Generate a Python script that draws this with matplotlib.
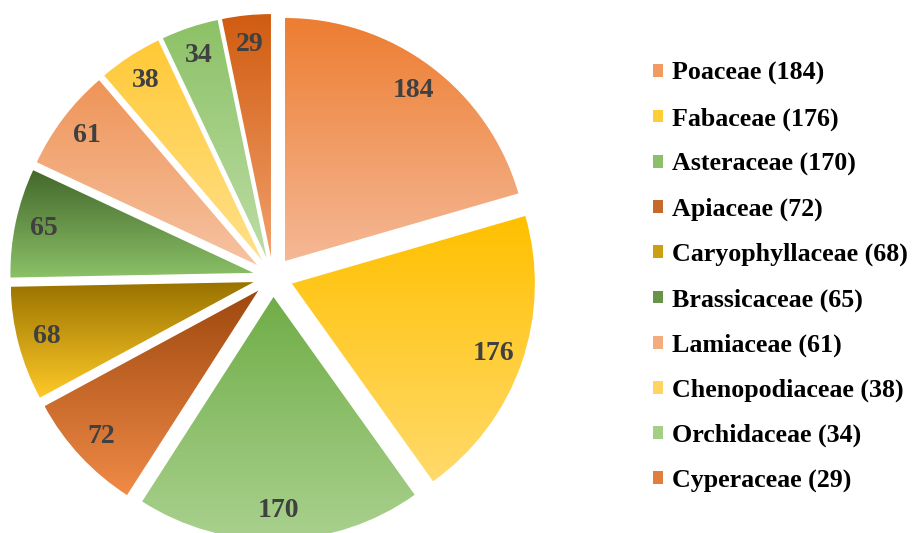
import numpy as np
import matplotlib.pyplot as plt
from matplotlib.colors import to_rgb
from matplotlib.patches import Patch


# Data
families = ['Poaceae', 'Fabaceae', 'Asteraceae', 'Apiaceae', 'Caryophyllaceae',
            'Brassicaceae', 'Lamiaceae', 'Chenopodiaceae', 'Orchidaceae', 'Cyperaceae']
counts = [184, 176, 170, 72, 68, 65, 61, 38, 34, 29]

# gradient colours per slice (top -> bottom)
top_colors = ['#ED7D31', '#FFC000', '#70AD47', '#9E480E', '#997300',
              '#43682B', '#EF9458', '#FFC936', '#8CC166', '#D05C11']
bottom_colors = ['#F5B895', '#FFDA6B', '#A9D18E', '#F08A47', '#FFC928',
                 '#8BC167', '#F6C3A2', '#FFE08A', '#BCDDA5', '#F2A06B']

plt.rcParams['font.family'] = ['Liberation Serif', 'DejaVu Serif']

W, H = 914, 533
fig = plt.figure(figsize=(W / 100, H / 100), dpi=100)
ax = fig.add_axes([0, 0, 1, 1])

total = sum(counts)
cx, cy, r = 273, H - 277, 243

wedges, texts, autotexts = ax.pie(
    counts, radius=r, center=(cx, cy), startangle=90, counterclock=False,
    explode=[20] * len(counts), frame=True,
    autopct=lambda p: f'{p * total / 100:.0f}', pctdistance=0.88,
    textprops=dict(fontsize=20, color='#404040', fontweight='bold'))

# vertical gradient fill clipped to each wedge
t = np.linspace(0, 1, 256)[:, None, None]
for w, c1, c2 in zip(wedges, top_colors, bottom_colors):
    ext = w.get_path().get_extents()
    img = (1 - t) * np.array(to_rgb(c1)) + t * np.array(to_rgb(c2))
    im = ax.imshow(img, extent=[ext.x0, ext.x1, ext.y0, ext.y1], origin='upper',
                   aspect='auto', interpolation='bilinear', zorder=1.5)
    im.set_clip_path(w)
    w.set_facecolor('none')
    w.set_edgecolor('none')

for txt in autotexts:
    txt.set_zorder(5)

ax.set_xlim(0, W)
ax.set_ylim(0, H)
ax.set_aspect('equal')
ax.axis('off')

handles = []
for c1, c2 in zip(top_colors, bottom_colors):
    mid = 0.5 * np.array(to_rgb(c1)) + 0.5 * np.array(to_rgb(c2))
    handles.append(Patch(facecolor=mid, edgecolor='none'))
labels = [f'{n} ({v})' for n, v in zip(families, counts)]

ax.legend(handles, labels, loc='upper left', bbox_to_anchor=(653 / W, 1 - 62 / H),
          bbox_transform=fig.transFigure, frameon=False,
          prop=dict(family='Liberation Serif', weight='bold', size=18.7),
          handlelength=0.38, handleheight=0.38, handletextpad=0.35,
          labelspacing=0.84, borderpad=0, borderaxespad=0)

fig.savefig('out.png', dpi=100)
